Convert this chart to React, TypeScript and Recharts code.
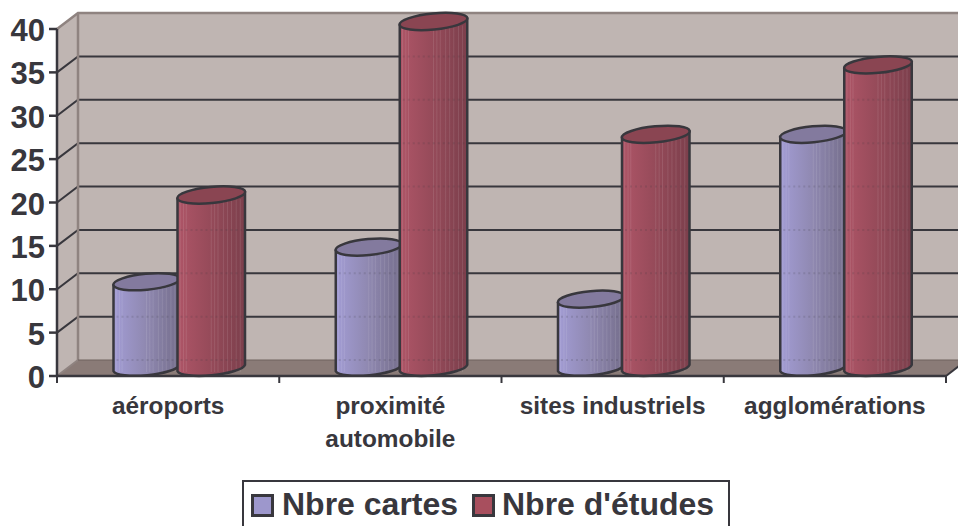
import React from 'react';
import { BarChart, Bar, XAxis, YAxis, Legend, usePlotArea } from 'recharts';

const categories = ['aéroports', 'proximité automobile', 'sites industriels', 'agglomérations'];
const nbreCartes = [10, 14, 8, 27];
const nbreEtudes = [20, 40, 27, 35];
const yTicks = [0, 5, 10, 15, 20, 25, 30, 35, 40];
const yMax = 40;
const seriesNames = ['Nbre cartes', "Nbre d'études"];
const seriesSwatch = ['#9D97CC', '#A84F5E'];

const data = categories.map((name, i) => ({ name, cartes: nbreCartes[i], etudes: nbreEtudes[i] }));

const INK = '#38373D';
const DX = 21;
const DY = 16;
const FONT = '"Liberation Sans", Arial, sans-serif';
const stripes = [0.04, 0.09, 0.13, 0.5, 0.55, 0.6, 0.68, 0.74, 0.8, 0.87, 0.93];

function Room() {
  const p = usePlotArea();
  if (!p) return null;
  const { x, y, width, height } = p;
  const bottom = y + height;
  const right = x + width;
  const n = categories.length;
  return (
    <g>
      <defs>
        <linearGradient id="gBlue" x1="0" x2="1" y1="0" y2="0">
          <stop offset="0" stopColor="#A29CD4" />
          <stop offset="0.5" stopColor="#8F88B0" />
          <stop offset="1" stopColor="#756E8C" />
        </linearGradient>
        <linearGradient id="gRed" x1="0" x2="1" y1="0" y2="0">
          <stop offset="0" stopColor="#AE5567" />
          <stop offset="0.5" stopColor="#954A59" />
          <stop offset="1" stopColor="#7C3F4C" />
        </linearGradient>
      </defs>
      <polygon points={`${x},${bottom} ${x + DX},${bottom - DY} ${x + DX},${y - DY} ${x},${y}`} fill="#BFB5B2" />
      <rect x={x + DX} y={y - DY} width={width} height={height} fill="#BFB5B2" />
      <polygon
        points={`${x},${bottom} ${x + DX},${bottom - DY} ${right + DX},${bottom - DY} ${right},${bottom}`}
        fill="#8A7B77"
      />
      {yTicks.slice(1, -1).map((t) => {
        const gy = bottom - (t / yMax) * height;
        return (
          <polyline
            key={t}
            points={`${x},${gy} ${x + DX},${gy - DY} ${right + DX},${gy - DY}`}
            fill="none"
            stroke={INK}
            strokeWidth={2}
          />
        );
      })}
      <polyline
        points={`${x},${y} ${x + DX},${y - DY} ${right + DX},${y - DY}`}
        fill="none"
        stroke="#8F8380"
        strokeWidth={2.5}
      />
      <line x1={x + DX} y1={y - DY} x2={x + DX} y2={bottom - DY} stroke="#8F8380" strokeWidth={2.5} />
      <line x1={x} y1={bottom} x2={x + DX} y2={bottom - DY} stroke="#8F8380" strokeWidth={2} />
      <line x1={x + DX} y1={bottom - DY} x2={right + DX} y2={bottom - DY} stroke="#6E625F" strokeWidth={1} />
      <line x1={right} y1={bottom} x2={right + DX} y2={bottom - DY} stroke={INK} strokeWidth={2} />
      {Array.from({ length: n + 1 }, (_, i) => {
        const tx = x + (width * i) / n;
        return <line key={i} x1={tx} y1={bottom} x2={tx} y2={bottom + 7} stroke={INK} strokeWidth={2} />;
      })}
    </g>
  );
}

function Cylinder(props: any) {
  const { x, y, width, height, gradient, topFill, shift, grow, background } = props;
  const left = x + shift;
  const w = width + grow;
  const right = left + w;
  const base = y + height;
  const rx = w / 2 + 0.3;
  const ry = 8;
  const tilt = 3.2;
  const cyTop = y - 7.5;
  const cyBase = base - 8;
  const cx = left + w / 2;
  const bodyPath = `M${left},${cyTop + tilt} L${left},${cyBase + tilt} A${rx},${ry} -5.5 0 0 ${right},${cyBase - tilt} L${right},${cyTop - tilt} Z`;
  const ghosts =
    background && background.height
      ? yTicks
          .map((t) => background.y + background.height - (t / yMax) * background.height - DY)
          .filter((g) => g > cyTop + 10 && g < cyBase)
      : [];
  return (
    <g>
      <path d={bodyPath} fill={`url(#${gradient})`} />
      {stripes.map((s) => (
        <line
          key={s}
          x1={left + w * s}
          x2={left + w * s}
          y1={cyTop + 4}
          y2={cyBase + 4}
          stroke="#FFFFFF"
          strokeOpacity={0.1}
          strokeWidth={1}
        />
      ))}
      {ghosts.map((g) => (
        <line
          key={g}
          x1={left + 3}
          x2={right - 3}
          y1={g}
          y2={g}
          stroke={INK}
          strokeOpacity={0.16}
          strokeWidth={2}
          strokeDasharray="2 3"
        />
      ))}
      <path d={bodyPath} fill="none" stroke={INK} strokeWidth={2.5} strokeLinejoin="round" />
      <ellipse
        cx={cx}
        cy={cyTop}
        rx={rx}
        ry={ry}
        transform={`rotate(-5.5 ${cx} ${cyTop})`}
        fill={topFill}
        stroke={INK}
        strokeWidth={2.5}
      />
    </g>
  );
}

function CategoryTick(props: any) {
  const { x, y, payload } = props;
  const lines = payload.value === 'proximité automobile' ? payload.value.split(' ') : [payload.value];
  return (
    <text x={x} textAnchor="middle" fontFamily={FONT} fontWeight="bold" fontSize={24.4} fill={INK}>
      {lines.map((l: string, i: number) => (
        <tspan key={l} x={x} y={y + 30 + i * 33}>
          {l}
        </tspan>
      ))}
    </text>
  );
}

function LegendBox() {
  return (
    <div
      style={{
        position: 'absolute',
        left: 242,
        top: 480,
        width: 488,
        height: 60,
        boxSizing: 'border-box',
        border: `2.5px solid ${INK}`,
        background: '#fff',
        fontFamily: FONT,
        fontWeight: 'bold',
        fontSize: 32,
        color: INK,
      }}
    >
      {seriesNames.map((s, i) => (
        <React.Fragment key={s}>
          <span
            style={{
              position: 'absolute',
              left: i === 0 ? 7 : 228,
              top: 11.5,
              width: 23,
              height: 23,
              boxSizing: 'border-box',
              border: `3px solid ${INK}`,
              background: seriesSwatch[i],
            }}
          />
          <span style={{ position: 'absolute', left: i === 0 ? 38 : 258, top: 2, whiteSpace: 'nowrap', lineHeight: '40px' }}>
            {s}
          </span>
        </React.Fragment>
      ))}
    </div>
  );
}

export default function App() {
  return (
    <div style={{ position: 'fixed', left: 0, top: 0, width: 958, height: 526, overflow: 'hidden', background: '#fff' }}>
      <BarChart
        width={967}
        height={526}
        data={data}
        margin={{ top: 29, right: 21, bottom: 0, left: 0 }}
        barSize={66}
        barGap={0}
        barCategoryGap={0}
      >
        <Room />
        <XAxis
          dataKey="name"
          height={150}
          interval={0}
          axisLine={{ stroke: INK, strokeWidth: 2.5 }}
          tickLine={false}
          tick={<CategoryTick />}
        />
        <YAxis
          width={57}
          domain={[0, yMax]}
          ticks={yTicks}
          interval={0}
          tickSize={8}
          tickMargin={4}
          axisLine={{ stroke: INK, strokeWidth: 2.5 }}
          tickLine={{ stroke: INK, strokeWidth: 2.5 }}
          tick={{ fontFamily: FONT, fontWeight: 'bold', fontSize: 31, fill: INK, dy: 1 }}
        />
        <Legend content={<LegendBox />} wrapperStyle={{ height: 0, width: 0, left: 0, top: 0 }} />
        <Bar
          dataKey="cartes"
          name={seriesNames[0]}
          fill={seriesSwatch[0]}
          isAnimationActive={false}
          shape={(p: any) => <Cylinder {...p} gradient="gBlue" topFill="#837A9E" shift={11.5} grow={0} />}
        />
        <Bar
          dataKey="etudes"
          name={seriesNames[1]}
          fill={seriesSwatch[1]}
          isAnimationActive={false}
          shape={(p: any) => <Cylinder {...p} gradient="gRed" topFill="#8A4552" shift={9.5} grow={1.5} />}
        />
      </BarChart>
    </div>
  );
}
